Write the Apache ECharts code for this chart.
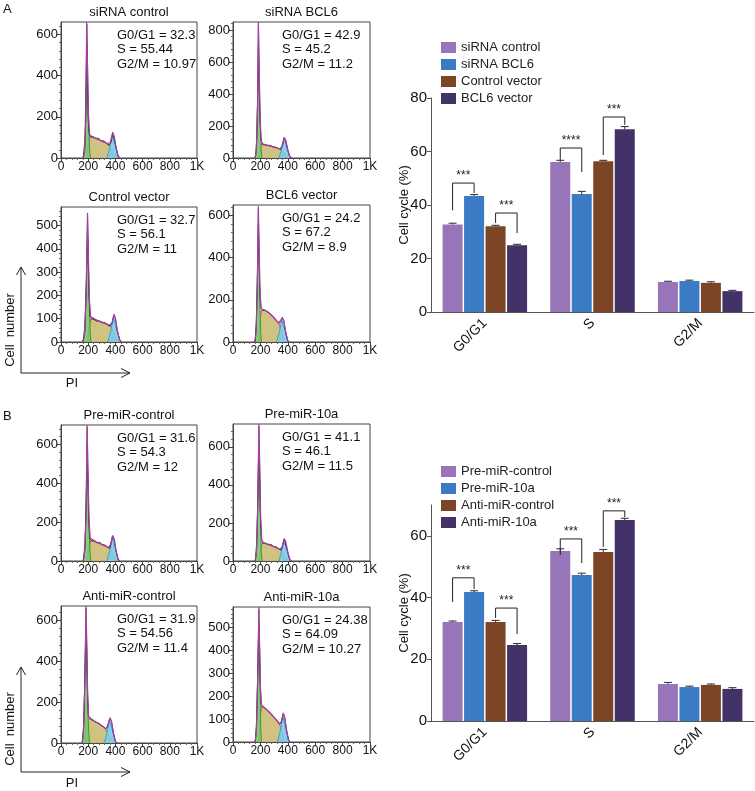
<!DOCTYPE html>
<html><head><meta charset="utf-8">
<script src="https://cdn.jsdelivr.net/npm/echarts@6/dist/echarts.min.js"></script>
<style>html,body{margin:0;padding:0;background:#fff}#c{width:755px;height:791px}</style>
</head><body><div id="c"></div>
<script>
const FONT = '"Liberation Sans", Arial, sans-serif';

// ---------- flow cytometry histograms ----------
const histTitles = ['siRNA control','siRNA BCL6','Control vector','BCL6 vector','Pre-miR-control','Pre-miR-10a','Anti-miR-control','Anti-miR-10a'];
const histYMax = [660, 850, 580, 650, 700, 720, 670, 590];
const histYStep = [200, 200, 100, 200, 200, 200, 200, 100];
const histYTicks = [[0,200,400,600],[0,200,400,600,800],[0,100,200,300,400,500],[0,200,400,600],[0,200,400,600],[0,200,400,600],[0,200,400,600],[0,100,200,300,400,500]];
const histXTicks = [0,200,400,600,800,1000];
const histG1Text = ['32.3','42.9','32.7','24.2','31.6','41.1','31.9','24.38'];
const histSText = ['55.44','45.2','56.1','67.2','54.3','46.1','54.56','64.09'];
const histG2Text = ['10.97','11.2','11','8.9','12','11.5','11.4','10.27'];

const g1Curves = [
 [[162,0],[176,90],[185,420],[190,650],[197,380],[204,160],[211,40],[216,0]],
 [[164,0],[174,130],[182,520],[186,840],[192,500],[199,200],[205,60],[211,0]],
 [[162,0],[177,80],[188,330],[195,545],[202,320],[209,140],[215,40],[220,0]],
 [[162,0],[172,110],[180,400],[185,630],[191,400],[197,160],[202,50],[207,0]],
 [[164,0],[177,100],[187,400],[192,690],[199,420],[206,170],[213,50],[220,0]],
 [[164,0],[175,120],[184,450],[189,710],[196,430],[202,160],[207,45],[212,0]],
 [[157,0],[169,110],[178,420],[184,660],[191,420],[198,160],[204,50],[210,0]],
 [[163,0],[173,100],[182,360],[189,580],[195,360],[200,140],[204,40],[208,0]]
];
const sCurves = [
 [[192,0],[200,70],[212,104],[250,96],[300,82],[340,68],[362,56],[385,25],[405,0]],
 [[188,0],[196,55],[208,85],[250,78],[300,68],[340,56],[358,48],[380,20],[398,0]],
 [[195,0],[205,60],[220,100],[260,92],[310,82],[350,72],[372,64],[395,25],[415,0]],
 [[186,0],[195,90],[206,148],[230,150],[260,138],[290,120],[320,98],[340,80],[355,45],[370,0]],
 [[195,0],[205,65],[218,106],[260,96],[310,82],[345,70],[365,60],[388,25],[405,0]],
 [[190,0],[198,60],[212,96],[250,88],[300,74],[335,62],[355,52],[378,20],[398,0]],
 [[178,0],[182,110],[200,122],[230,110],[262,100],[300,84],[330,66],[348,45],[370,15],[385,0]],
 [[188,0],[196,95],[208,155],[230,148],[260,132],[290,112],[320,92],[343,74],[360,40],[376,0]]
];
const g2Curves = [
 [[338,0],[358,50],[378,112],[388,110],[400,55],[420,0]],
 [[335,0],[355,55],[373,125],[382,118],[395,60],[416,0]],
 [[345,0],[365,45],[385,110],[394,112],[410,50],[439,0]],
 [[318,0],[338,45],[356,105],[364,108],[378,55],[399,0]],
 [[338,0],[358,55],[377,125],[387,122],[400,60],[421,0]],
 [[335,0],[354,50],[372,112],[380,112],[393,55],[416,0]],
 [[318,0],[338,50],[356,115],[364,115],[380,55],[404,0]],
 [[325,0],[345,50],[363,118],[371,118],[386,55],[411,0]]
];
const fitCurves = [
 [[160,0],[172,20],[182,180],[189,660],[195,450],[202,210],[210,115],[225,105],[260,95],[300,82],[340,70],[362,75],[380,125],[392,105],[405,50],[420,10],[435,0]],
 [[160,0],[170,40],[179,300],[185,850],[191,560],[198,250],[206,110],[215,88],[250,80],[300,69],[340,58],[355,68],[374,130],[386,110],[400,50],[416,8],[430,0]],
 [[158,0],[172,25],[186,220],[195,555],[201,380],[209,180],[218,108],[230,100],[270,92],[320,82],[360,72],[376,84],[390,120],[400,100],[415,45],[432,8],[445,0]],
 [[158,0],[168,40],[178,280],[185,644],[191,430],[198,230],[206,158],[230,152],[260,140],[290,122],[320,100],[338,88],[350,98],[360,118],[370,100],[385,45],[400,6],[410,0]],
 [[160,0],[172,25],[184,220],[192,700],[198,470],[206,220],[214,118],[228,108],[265,96],[310,82],[348,70],[365,85],[380,132],[392,110],[405,52],[420,10],[432,0]],
 [[160,0],[170,35],[180,260],[189,720],[195,500],[202,230],[210,110],[222,96],[260,88],[300,75],[340,62],[356,70],[374,118],[386,100],[400,45],[415,8],[428,0]],
 [[154,0],[164,40],[175,280],[184,670],[190,470],[196,240],[203,130],[220,118],[262,100],[300,85],[330,70],[345,80],[360,124],[372,104],[386,48],[400,8],[412,0]],
 [[160,0],[170,40],[180,260],[189,590],[195,400],[201,220],[208,160],[230,150],[260,134],[290,114],[320,94],[342,78],[354,92],[367,127],[378,105],[392,48],[406,8],[418,0]]
];
const rawCurves = [
 [[165,0],[176,50],[184,260],[189,560],[193,420],[199,200],[207,115],[220,102],[238,104],[255,94],[275,97],[295,83],[315,84],[335,72],[355,62],[368,78],[380,118],[390,110],[402,60],[418,12],[430,0]],
 [[163,0],[172,70],[180,380],[185,700],[189,560],[195,300],[203,120],[214,86],[232,84],[250,78],[270,80],[290,70],[310,68],[330,60],[348,55],[362,80],[374,125],[384,112],[398,55],[414,10],[428,0]],
 [[162,0],[176,45],[188,280],[195,480],[199,420],[205,210],[214,110],[226,100],[244,98],[262,90],[282,92],[302,82],[322,84],[342,74],[360,68],[376,80],[390,115],[400,104],[414,50],[430,10],[442,0]],
 [[161,0],[170,80],[179,330],[185,560],[189,470],[194,280],[202,165],[215,152],[235,150],[255,142],[275,132],[295,120],[315,104],[332,92],[346,86],[360,114],[370,104],[384,50],[398,10],[408,0]],
 [[164,0],[176,60],[186,300],[192,600],[196,470],[203,230],[212,115],[226,104],[245,104],[265,94],[285,96],[305,84],[325,82],[345,70],[360,66],[370,95],[380,128],[390,115],[403,60],[418,12],[430,0]],
 [[163,0],[173,70],[182,360],[189,620],[193,520],[199,260],[208,110],[220,94],[238,94],[258,86],[278,88],[298,76],[318,74],[336,64],[352,58],[364,85],[374,116],[384,106],[398,52],[413,10],[425,0]],
 [[157,0],[167,80],[176,350],[184,580],[188,480],[194,260],[201,135],[215,120],[235,112],[255,102],[275,98],[295,86],[315,80],[332,68],[346,74],[360,120],[370,110],[384,52],[398,10],[410,0]],
 [[163,0],[172,70],[181,320],[189,520],[193,440],[198,270],[206,165],[220,154],[240,146],[258,136],[278,124],[298,110],[318,98],[336,82],[352,82],[366,122],[376,112],[390,55],[404,10],[415,0]]
];

// ---------- bar charts ----------
const phases = ['G0/G1','S','G2/M'];
const groupsA = ['siRNA control','siRNA BCL6','Control vector','BCL6 vector'];
const valuesA = [[32.7,56.1,11.2],[43.4,44.1,11.6],[32.1,56.4,10.9],[25.0,68.3,7.8]];
const errorsA = [[0.5,0.6,0.3],[0.5,1.0,0.3],[0.3,0.3,0.4],[0.3,1.0,0.3]];
const bracketsA = [[0,0,1,38,48.2,44.5],[0,2,3,33.3,37,29.5],[1,0,1,56.8,61.3,52.3],[1,2,3,58.7,72.9,70]];
const bracketLabelsA = ['***','***','****','***'];
const yTicksA = [0,20,40,60,80];

const groupsB = ['Pre-miR-control','Pre-miR-10a','Anti-miR-control','Anti-miR-10a'];
const valuesB = [[32.1,55.1,12.0],[41.8,47.3,11.0],[32.1,54.8,11.7],[24.6,65.1,10.4]];
const errorsB = [[0.3,0.7,0.5],[0.4,0.6,0.3],[0.5,0.8,0.3],[0.5,0.6,0.4]];
const bracketsB = [[0,0,1,38.6,46.4,42.7],[0,2,3,33.4,36.6,28.2],[1,0,1,53.8,59,51.2],[1,2,3,56.4,68.1,66.1]];
const bracketLabelsB = ['***','***','***','***'];
const yTicksB = [0,20,40,60];

const barColors = ['#9775b8','#3a7bc4','#7c4526','#433267'];

// ---------- layout ----------
const histLayout = [
 {left:61, top:22, width:136, height:136},
 {left:233, top:22, width:137, height:136},
 {left:61, top:207, width:136, height:135},
 {left:233, top:205, width:137, height:137},
 {left:61, top:425, width:136, height:136},
 {left:233, top:424, width:137, height:137},
 {left:61, top:606, width:136, height:137},
 {left:233, top:607, width:137, height:135}
];
const barLayout = [
 {left:431, top:98, width:323, height:214},
 {left:431, top:505, width:323, height:216}
];
const BAR_W = 20, BAR_GAP_PX = 1.5;
const barOffset = i => (i - 1.5) * (BAR_W + BAR_GAP_PX);

const grids = [], xAxes = [], yAxes = [], series = [], graphics = [];
const axisCol = '#444';
const txt = (size) => ({fontSize:size, fontFamily:FONT, fontWeight:'normal', fill:'#111'});

histLayout.forEach((g, i) => {
  grids.push(Object.assign({show:true, borderColor:axisCol, borderWidth:1, backgroundColor:'#fff', outerBoundsMode:'none', containLabel:false}, g));
  xAxes.push({gridIndex:i, type:'value', min:0, max:1000, interval:200,
    axisLine:{show:true, lineStyle:{color:axisCol}},
    axisTick:{show:true, length:3, customValues:histXTicks, lineStyle:{color:axisCol}},
    minorTick:{show:true, splitNumber:5, length:2, lineStyle:{color:'#666'}},
    axisLabel:{customValues:histXTicks, fontSize:12, color:'#111', margin:3, fontFamily:FONT, formatter:v => v === 1000 ? '1K' : String(v)},
    splitLine:{show:false}, minorSplitLine:{show:false}});
  yAxes.push({gridIndex:i, type:'value', min:0, max:histYMax[i], interval:histYStep[i],
    axisLine:{show:true, lineStyle:{color:axisCol}},
    axisTick:{show:true, length:4, customValues:histYTicks[i], lineStyle:{color:axisCol}},
    minorTick:{show:true, splitNumber:5, length:2, lineStyle:{color:'#666'}},
    axisLabel:{customValues:histYTicks[i], fontSize:13, color:'#111', margin:3, fontFamily:FONT},
    splitLine:{show:false}, minorSplitLine:{show:false}});
  const base = {xAxisIndex:i, yAxisIndex:i, type:'line', symbol:'none', silent:true, animation:false, smooth:false};
  series.push(Object.assign({}, base, {data:sCurves[i], z:1, lineStyle:{color:'#b05040', width:1}, areaStyle:{color:'#cbbb72', opacity:0.9}}));
  series.push(Object.assign({}, base, {data:g1Curves[i], z:2, lineStyle:{color:'#3b9a3b', width:1}, areaStyle:{color:'#7cc46e', opacity:0.9}}));
  series.push(Object.assign({}, base, {data:g2Curves[i], z:2, lineStyle:{color:'#3aa3cf', width:1}, areaStyle:{color:'#7ccbe6', opacity:0.9}}));
  series.push(Object.assign({}, base, {data:rawCurves[i], z:3, lineStyle:{color:'#1a1a1a', width:0.8}}));
  series.push(Object.assign({}, base, {data:fitCurves[i], z:4, lineStyle:{color:'#a83ca8', width:1.2}}));

  const cx = g.left + g.width / 2;
  graphics.push({type:'text', x:cx, y:g.top - 10, style:Object.assign(txt(13), {text:histTitles[i], textAlign:'center', textVerticalAlign:'middle'})});
  const tx = g.left + (i % 2 === 0 ? 56 : 49);
  [['G0/G1 = ' + histG1Text[i], 13], ['S = ' + histSText[i], 27.5], ['G2/M = ' + histG2Text[i], 42]].forEach(([t, dy]) => {
    graphics.push({type:'text', x:tx, y:g.top + dy, z:100, style:Object.assign(txt(13), {text:t, textAlign:'left', textVerticalAlign:'middle'})});
  });
});

// bar charts
[[groupsA, valuesA, errorsA, bracketsA, bracketLabelsA, yTicksA, 80], [groupsB, valuesB, errorsB, bracketsB, bracketLabelsB, yTicksB, 70]].forEach(([groups, vals, errs, brs, brLabels, ticks, ymax], k) => {
  const gi = 8 + k;
  grids.push(Object.assign({show:false, outerBoundsMode:'none', containLabel:false}, barLayout[k]));
  xAxes.push({gridIndex:gi, type:'category', data:phases,
    axisLine:{show:true, lineStyle:{color:'#555', width:1}}, axisTick:{show:false},
    axisLabel:{rotate:45, fontSize:14, color:'#111', margin:9, fontFamily:FONT}, splitLine:{show:false}});
  yAxes.push({gridIndex:gi, type:'value', min:0, max:ymax, interval:20,
    name:'Cell cycle (%)', nameLocation:'middle', nameGap:20, nameRotate:90, nameMoveOverlap:false,
    nameTextStyle:{fontSize:13, color:'#111', fontFamily:FONT},
    axisLine:{show:true, lineStyle:{color:'#555', width:1}},
    axisTick:{show:true, length:4, customValues:ticks, lineStyle:{color:'#555'}},
    axisLabel:{customValues:ticks, fontSize:15, color:'#111', margin:4, fontFamily:FONT},
    splitLine:{show:false}});
  groups.forEach((name, i) => {
    series.push({type:'bar', name, xAxisIndex:gi, yAxisIndex:gi, data:vals[i], barWidth:BAR_W,
      barGap:(BAR_GAP_PX / BAR_W * 100) + '%', itemStyle:{color:barColors[i]}, animation:false, silent:true});
  });
  groups.forEach((name, i) => {
    series.push({type:'custom', xAxisIndex:gi, yAxisIndex:gi, animation:false, silent:true, clip:false, z:5,
      data:phases.map((p, j) => [j, vals[i][j], errs[i][j]]),
      encode:{x:0, y:1},
      renderItem:(params, api) => {
        const c = api.value(0), v = api.value(1), e = api.value(2);
        const p0 = api.coord([c, v]), p1 = api.coord([c, v + e]);
        const x = p0[0] + barOffset(i);
        const st = {stroke:'#2a2a2a', lineWidth:1};
        return {type:'group', children:[
          {type:'line', shape:{x1:x, y1:p0[1], x2:x, y2:p1[1]}, style:st},
          {type:'line', shape:{x1:x - 4, y1:p1[1], x2:x + 4, y2:p1[1]}, style:st}
        ]};
      }});
  });
  series.push({type:'custom', xAxisIndex:gi, yAxisIndex:gi, animation:false, silent:true, clip:false, z:6,
    data:brs, encode:{x:0, y:4},
    renderItem:(params, api) => {
      const c = api.value(0), bl = api.value(1), br = api.value(2);
      const cx = api.coord([c, 0])[0];
      const xl = cx + barOffset(bl), xr = cx + barOffset(br);
      const yl = api.coord([c, api.value(3)])[1], yt = api.coord([c, api.value(4)])[1], yr = api.coord([c, api.value(5)])[1];
      return {type:'group', children:[
        {type:'polyline', shape:{points:[[xl, yl], [xl, yt], [xr, yt], [xr, yr]]}, style:{stroke:'#222', fill:null, lineWidth:1}},
        {type:'text', style:{text:brLabels[params.dataIndex], x:(xl + xr) / 2, y:yt - 1, textAlign:'center', textVerticalAlign:'bottom', fontSize:12, fontFamily:FONT, fill:'#222'}}
      ]};
    }});
});

// panel letters and axis arrows
graphics.push({type:'text', x:3, y:3, style:Object.assign(txt(13), {text:'A'})});
graphics.push({type:'text', x:3, y:410, style:Object.assign(txt(13), {text:'B'})});
[[373, 267, 330, 383], [772, 667, 729, 783]].forEach(([yb, yt, ylab, ypi]) => {
  const st = {stroke:'#222', lineWidth:1, fill:null};
  graphics.push({type:'polyline', shape:{points:[[21, yt], [21, yb], [130, yb]]}, style:st});
  graphics.push({type:'polyline', shape:{points:[[16.5, yt + 8], [21, yt], [25.5, yt + 8]]}, style:st});
  graphics.push({type:'polyline', shape:{points:[[121, yb - 4.5], [130, yb], [121, yb + 4.5]]}, style:st});
  graphics.push({type:'text', x:10, y:ylab, rotation:Math.PI / 2, style:Object.assign(txt(13), {text:'Cell  number', textAlign:'center', textVerticalAlign:'middle'})});
  graphics.push({type:'text', x:72, y:ypi, style:Object.assign(txt(13), {text:'PI', textAlign:'center', textVerticalAlign:'middle'})});
});

const legendBase = {orient:'vertical', left:441, itemWidth:15, itemHeight:11, itemGap:4, icon:'rect', selectedMode:false,
  textStyle:{fontSize:13, color:'#222', fontFamily:FONT}, padding:0};

const chart = echarts.init(document.getElementById('c'), null, {renderer:'canvas'});
chart.setOption({
  backgroundColor:'#fff',
  animation:false,
  textStyle:{fontFamily:FONT},
  grid:grids, xAxis:xAxes, yAxis:yAxes, series,
  legend:[Object.assign({}, legendBase, {data:groupsA, top:41}), Object.assign({}, legendBase, {data:groupsB, top:465})],
  graphic:graphics
});
</script></body></html>
